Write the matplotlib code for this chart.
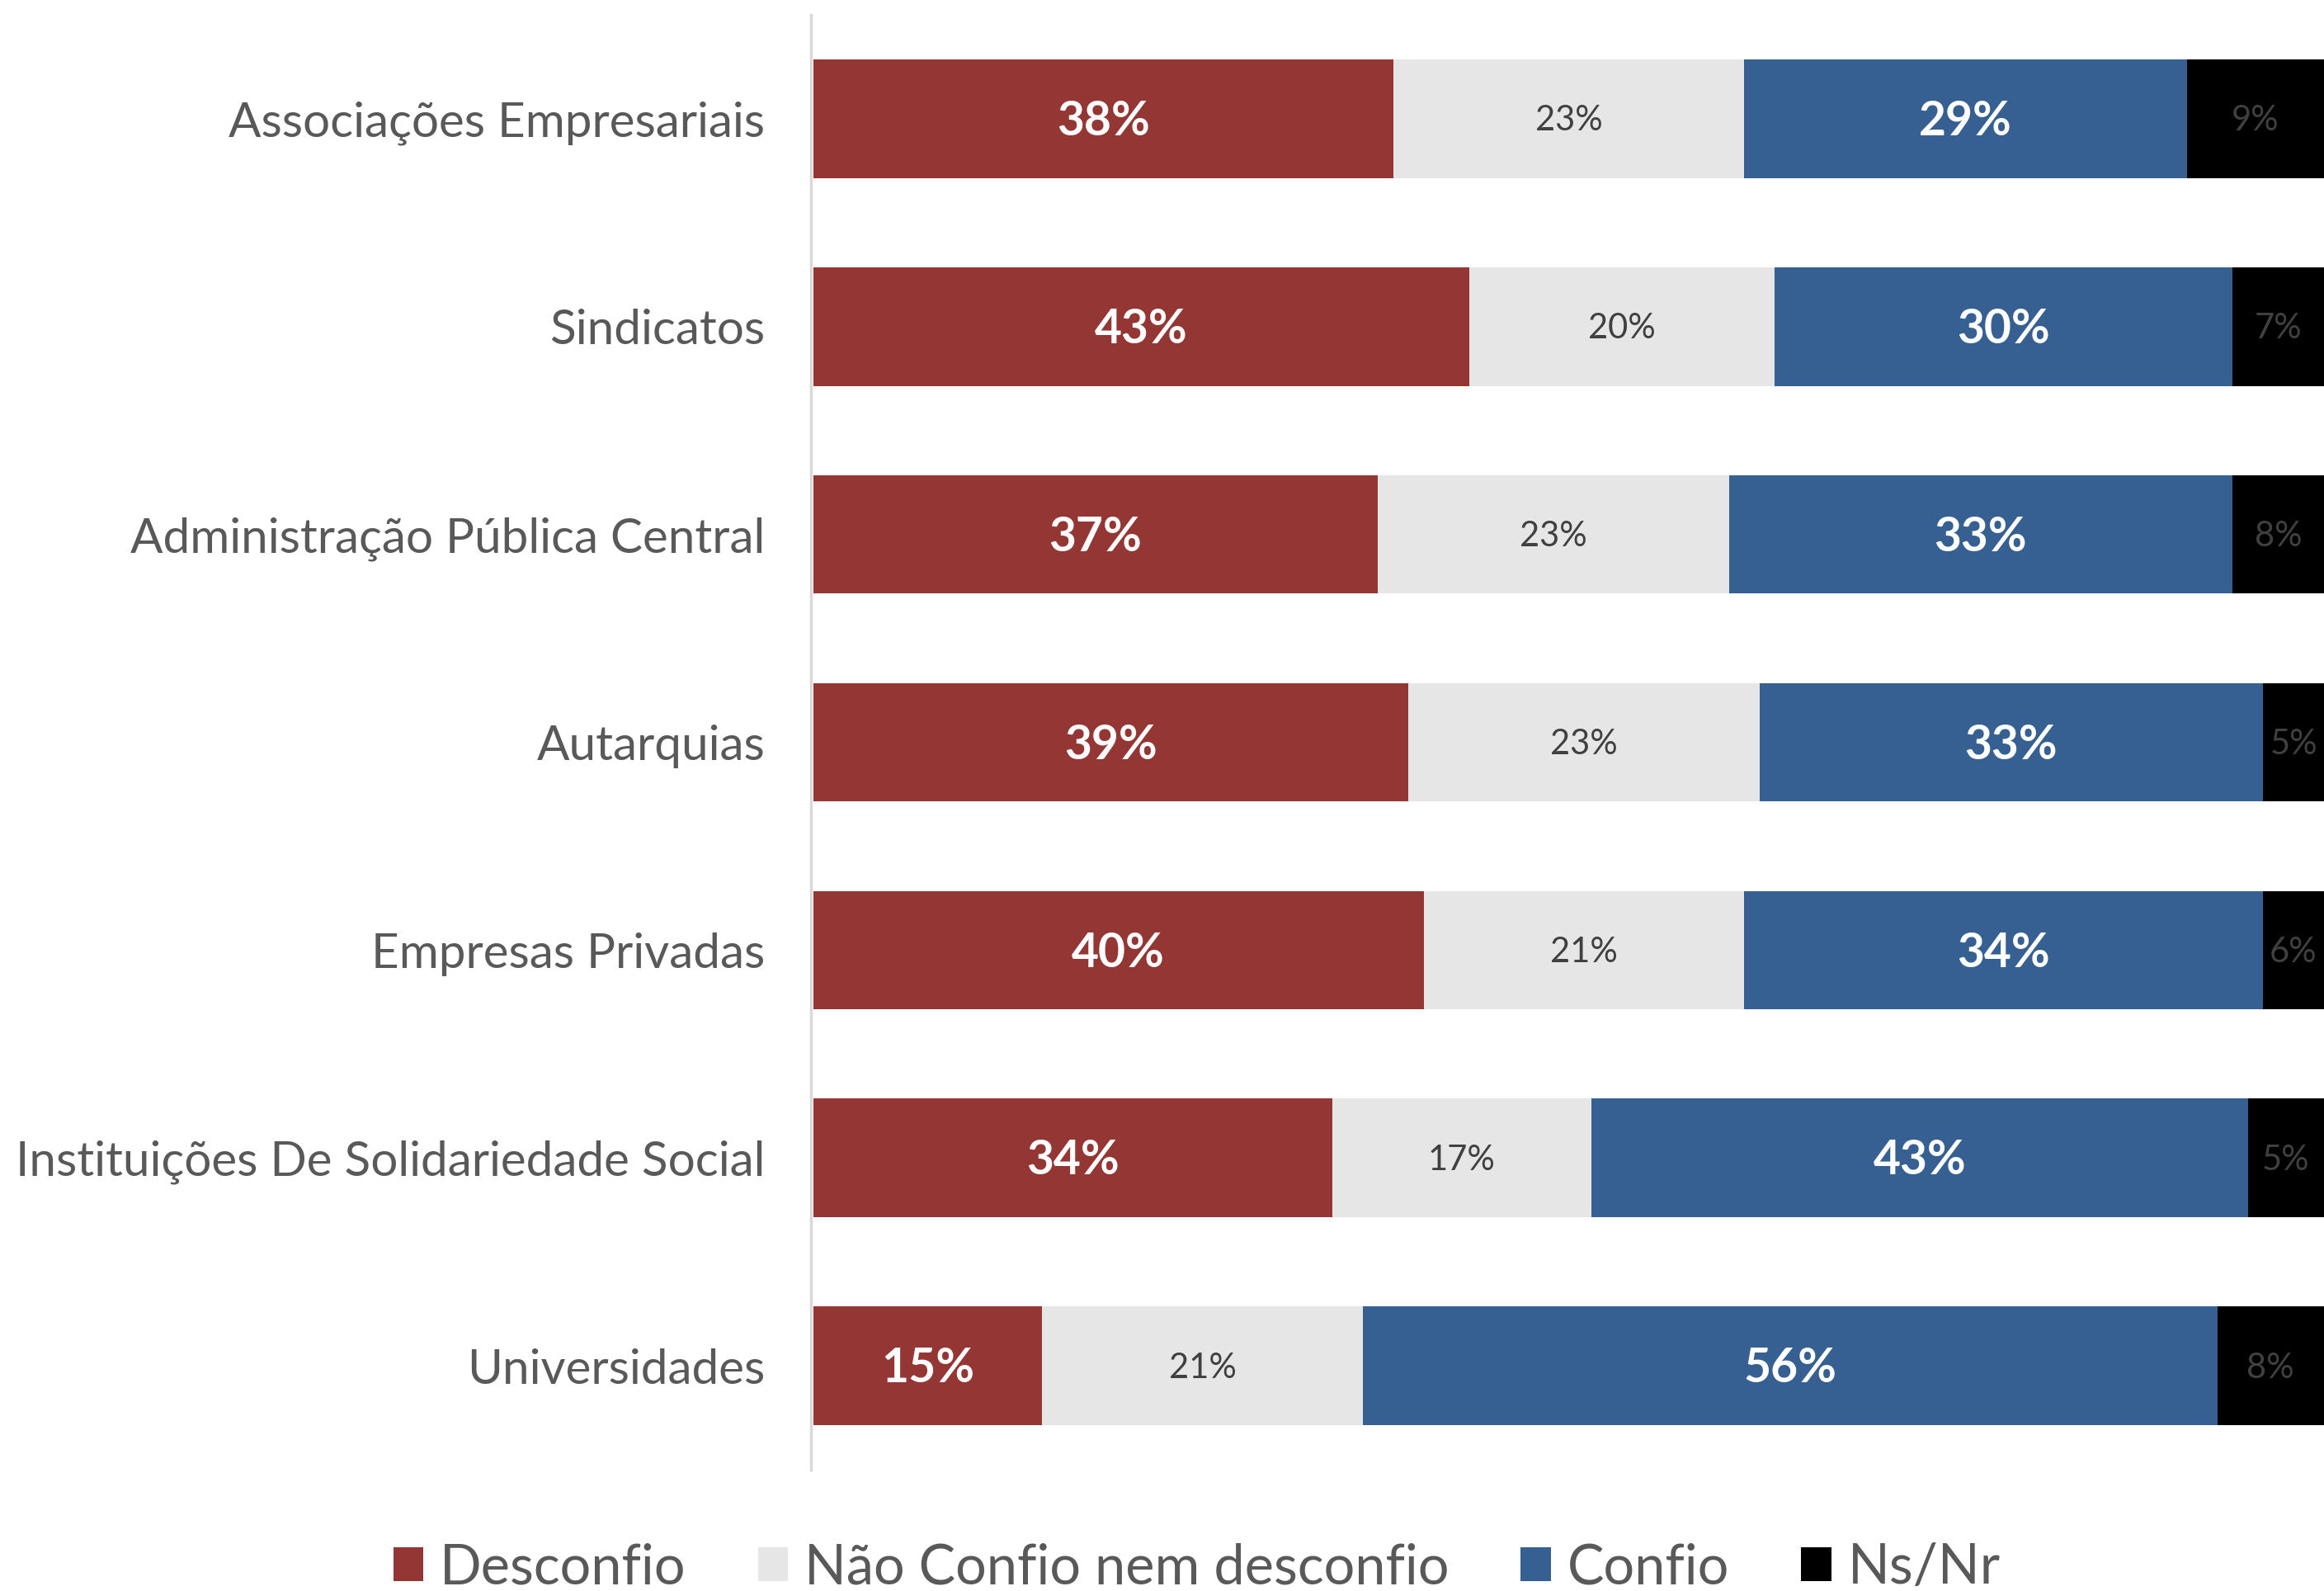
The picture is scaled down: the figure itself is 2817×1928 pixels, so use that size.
import matplotlib
matplotlib.use("Agg")
import matplotlib.pyplot as plt
import numpy as np

plt.rcParams['font.family'] = ['Lato', 'DejaVu Sans']

categorias = ["Associações Empresariais", "Sindicatos", "Administração Pública Central",
              "Autarquias", "Empresas Privadas", "Instituições De Solidariedade Social",
              "Universidades"]
desconfio = [38, 43, 37, 39, 40, 34, 15]
nem = [23, 20, 23, 23, 21, 17, 21]
confio = [29, 30, 33, 33, 34, 43, 56]
nsnr = [9, 7, 8, 5, 6, 5, 8]

series = ["Desconfio", "Não Confio nem desconfio", "Confio", "Ns/Nr"]
cores = ["#943634", "#E6E6E6", "#366092", "#000000"]

fig = plt.figure(figsize=(28.17, 19.28), dpi=100)
ax = fig.add_axes([983 / 2817, 1 - 1781 / 1928, 1 - 983 / 2817, 1763 / 1928])

xmax = 99.0
y = np.arange(len(categorias))
left = np.zeros(len(categorias))
valores = [desconfio, nem, confio, nsnr]
for i, vals in enumerate(valores):
    vals = np.array(vals)
    ax.barh(y, vals, left=left, height=0.57, color=cores[i], label=series[i])
    for j in range(len(vals)):
        # centre of the visible part of the segment
        cx = (left[j] + min(left[j] + vals[j], xmax)) / 2
        txt = str(vals[j]) + "%"
        if i == 0 or i == 2:
            ax.text(cx, y[j] + 0.015, txt, ha='center', va='center', color='white',
                    fontsize=41, fontweight='bold')
        else:
            ax.text(cx, y[j] + 0.01, txt, ha='center', va='center', color='#404040', fontsize=30)
    left = left + vals

ax.set_xlim(-0.15, xmax)
ax.set_ylim(len(categorias) - 0.5, -0.5)
ax.set_yticks(y)
ax.set_yticklabels(categorias, fontsize=42, color='#595959')
ax.tick_params(axis='y', length=0, pad=40)
ax.set_xticks([])
for s in ['top', 'right', 'bottom']:
    ax.spines[s].set_visible(False)
ax.spines['left'].set_color('#D9D9D9')
ax.spines['left'].set_linewidth(2.5)

fig.legend(loc='center', bbox_to_anchor=(0.515, 1 - 1900 / 1928), ncol=4, frameon=False,
           fontsize=48, labelcolor='#595959', handlelength=0.55, handleheight=0.55,
           handletextpad=0.3, columnspacing=1.3)

fig.savefig("out.png", dpi=100)
